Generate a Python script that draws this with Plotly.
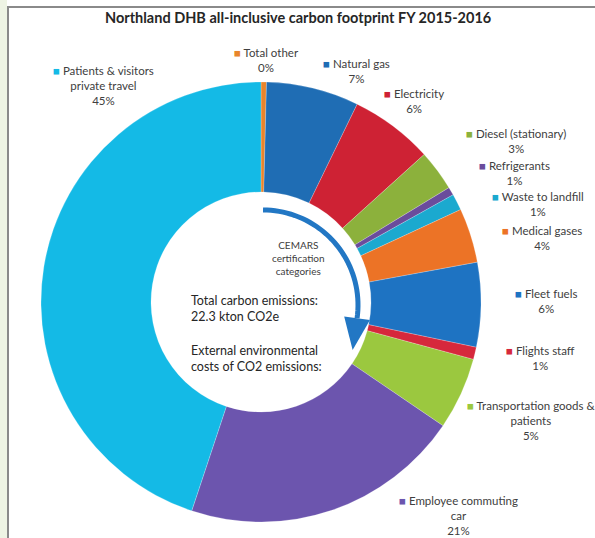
import math
import plotly.graph_objects as go

W, H = 595, 538

# ---- data ----
categories = [
    "Total other", "Natural gas", "Electricity", "Diesel (stationary)",
    "Refrigerants", "Waste to landfill", "Medical gases", "Fleet fuels",
    "Flights staff", "Transportation goods &<br>patients",
    "Employee commuting<br>car", "Patients & visitors<br>private travel",
]
values = [0.4, 6.8, 6.1, 3.0, 0.6, 1.2, 4.0, 6.2, 0.9, 5.3, 20.6, 44.9]
colors = [
    "#E8852C", "#1F6DB4", "#CE2234", "#8CB13C", "#6A4C9C", "#1BA9CF",
    "#EC7326", "#1E73C2", "#D6283C", "#9BC83F", "#6C55AE", "#14BAE6",
]
# label text block positions (pixel centre of block)
label_pos = [
    (266, 60), (356, 71), (414, 101), (516, 141), (514, 173), (538, 204),
    (542, 238), (546, 301), (540, 358), (531, 420), (458, 515), (103, 86),
]

# ---- geometry ----
cx, cy, R = 261, 302, 220


def px(x):
    return x / W


def py(y):
    return 1 - y / H


fig = go.Figure()
fig.add_trace(go.Pie(
    labels=categories,
    values=values,
    sort=False,
    direction="clockwise",
    rotation=0,
    hole=0.5,
    marker=dict(colors=colors, line=dict(color="rgba(255,255,255,0.35)", width=0.6)),
    textinfo="none",
    hoverinfo="label+percent",
    showlegend=False,
    domain=dict(x=[px(cx - R), px(cx + R)], y=[py(cy + R), py(cy - R)]),
))

total = sum(values)
annotations = []
for cat, v, col, (lx, ly) in zip(categories, values, colors, label_pos):
    pct = round(v / total * 100)
    txt = f"<span style='color:{col}'>■</span> {cat}<br>{pct}%"
    annotations.append(dict(
        x=px(lx), y=py(ly), xref="paper", yref="paper", text=txt,
        showarrow=False, align="center", xanchor="center", yanchor="middle",
        font=dict(family="Lato, Open Sans, sans-serif", size=11.5, color="#404040"),
    ))

# title
annotations.append(dict(
    x=px(298), y=py(17), xref="paper", yref="paper",
    text="<b>Northland DHB all-inclusive carbon footprint FY 2015-2016</b>",
    showarrow=False, xanchor="center", yanchor="middle",
    font=dict(family="Lato, Open Sans, sans-serif", size=14.5, color="#262626"),
))
# centre texts
annotations.append(dict(
    x=px(298), y=py(258), xref="paper", yref="paper",
    text="CEMARS<br>certification<br>categories",
    showarrow=False, xanchor="center", yanchor="middle", align="center",
    font=dict(family="Lato, Open Sans, sans-serif", size=10, color="#404040"),
))
annotations.append(dict(
    x=px(189), y=py(308), xref="paper", yref="paper",
    text="Total carbon emissions:<br>22.3 kton CO2e",
    showarrow=False, xanchor="left", yanchor="middle", align="left",
    font=dict(family="Lato, Open Sans, sans-serif", size=12.5, color="#262626"),
))
annotations.append(dict(
    x=px(189), y=py(358), xref="paper", yref="paper",
    text="External environmental<br>costs of CO2 emissions:",
    showarrow=False, xanchor="left", yanchor="middle", align="left",
    font=dict(family="Lato, Open Sans, sans-serif", size=12.5, color="#262626"),
))

# ---- curved arrow (arc) ----
acx, acy, ar = 263, 305, 95
sweep = 98
pts = []
for i in range(41):
    a = math.radians(90 - i * (sweep / 40))
    pts.append((acx + ar * math.cos(a), acy - ar * math.sin(a)))
path = "M " + " L ".join(f"{px(x):.5f},{py(y):.5f}" for x, y in pts)
shapes = [
    dict(type="path", path=path, xref="paper", yref="paper",
         line=dict(color="#2277C4", width=5), layer="above"),
]
# arrow head: clockwise tangent in screen coords is (sin a, cos a)
ea = math.radians(90 - sweep)
ex, ey = pts[-1]
tgx, tgy = math.sin(ea), math.cos(ea)
head_len, head_w = 32, 13
tipx, tipy = ex + tgx * head_len, ey + tgy * head_len
bx1, by1 = ex - tgy * head_w, ey + tgx * head_w
bx2, by2 = ex + tgy * head_w, ey - tgx * head_w
shapes.append(dict(
    type="path",
    path=f"M {px(bx1):.5f},{py(by1):.5f} L {px(bx2):.5f},{py(by2):.5f} L {px(tipx):.5f},{py(tipy):.5f} Z",
    xref="paper", yref="paper", fillcolor="#2277C4", line=dict(width=0), layer="above",
))

# frame and left strip
shapes.append(dict(type="rect", xref="paper", yref="paper", x0=0, x1=px(7), y0=0, y1=1,
                   fillcolor="#EEF4E4", line=dict(width=0), layer="below"))
shapes.append(dict(type="path", xref="paper", yref="paper",
                   path=f"M {px(8)},0 L {px(8)},{py(7)} L 1,{py(7)}",
                   line=dict(color="#8A8A8A", width=2), layer="above"))

fig.update_layout(
    width=W, height=H,
    margin=dict(l=0, r=0, t=0, b=0),
    paper_bgcolor="white", plot_bgcolor="white",
    annotations=annotations, shapes=shapes,
    showlegend=False,
)
fig.write_html("out.html")
